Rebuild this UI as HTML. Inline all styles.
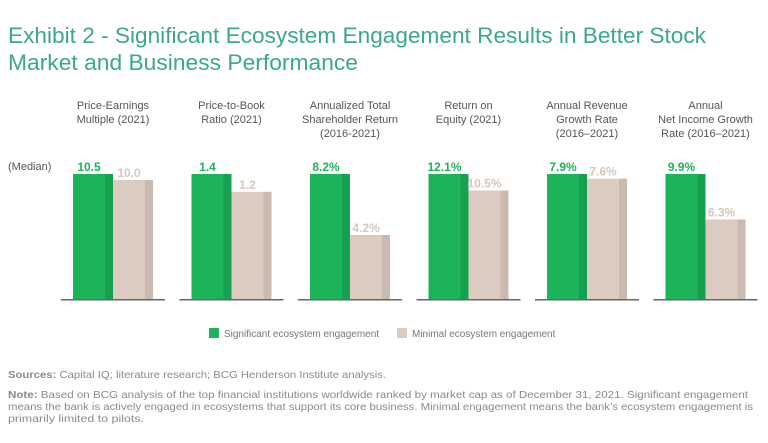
<!DOCTYPE html>
<html><head><meta charset="utf-8"><style>
html,body{margin:0;padding:0;background:#fff;}
svg{display:block;font-family:"Liberation Sans",sans-serif;}
</style></head><body>
<svg width="768" height="443" viewBox="0 0 768 443">
<text x="8" y="43" font-size="22" fill="#3aa88a" textLength="698" lengthAdjust="spacingAndGlyphs">Exhibit 2 - Significant Ecosystem Engagement Results in Better Stock</text>
<text x="8" y="70" font-size="22" fill="#3aa88a" textLength="350" lengthAdjust="spacingAndGlyphs">Market and Business Performance</text>
<text x="8" y="170" font-size="11" fill="#555">(Median)</text>
<g id="bars"></g>
<rect x="209" y="328" width="10" height="10" fill="#1db35a"/>
<text x="224" y="337" font-size="10" fill="#777">Significant ecosystem engagement</text>
<rect x="397" y="328" width="10" height="10" fill="#dccbc0"/>
<text x="412" y="337" font-size="10" fill="#777">Minimal ecosystem engagement</text>
<text x="8" y="378" font-size="10.5" fill="#8a8a8a" textLength="378" lengthAdjust="spacingAndGlyphs"><tspan font-weight="bold">Sources:</tspan> Capital IQ; literature research; BCG Henderson Institute analysis.</text>
<text x="8" y="398" font-size="10.5" fill="#8a8a8a" textLength="740" lengthAdjust="spacingAndGlyphs"><tspan font-weight="bold">Note:</tspan> Based on BCG analysis of the top financial institutions worldwide ranked by market cap as of December 31, 2021. Significant engagement</text>
<text x="8" y="410" font-size="10.5" fill="#8a8a8a" textLength="745" lengthAdjust="spacingAndGlyphs">means the bank is actively engaged in ecosystems that support its core business. Minimal engagement means the bank’s ecosystem engagement is</text>
<text x="8" y="422" font-size="10.5" fill="#8a8a8a" textLength="136" lengthAdjust="spacingAndGlyphs">primarily limited to pilots.</text>
</svg>
<script>
const categories = [
  ["Price-Earnings","Multiple (2021)"],
  ["Price-to-Book","Ratio (2021)"],
  ["Annualized Total","Shareholder Return","(2016-2021)"],
  ["Return on","Equity (2021)"],
  ["Annual Revenue","Growth Rate","(2016–2021)"],
  ["Annual","Net Income Growth","Rate (2016–2021)"]
];
const significant = [10.5, 1.4, 8.2, 12.1, 7.9, 9.9];
const minimal = [10.0, 1.2, 4.2, 10.5, 7.6, 6.3];
const sigLabels = ["10.5","1.4","8.2%","12.1%","7.9%","9.9%"];
const minLabels = ["10.0","1.2","4.2%","10.5%","7.6%","6.3%"];

const NS = "http://www.w3.org/2000/svg";
const g = document.getElementById("bars");
const baseY = 299, maxH = 125, barW = 40, step = 118.5, x0 = 73;
function px(i){ return x0 + i*step; }
function h(v, ref){ return v/ref*maxH; }
function mk(tag, attrs){ const e=document.createElementNS(NS,tag); for(const k in attrs) e.setAttribute(k,attrs[k]); g.appendChild(e); return e; }

categories.forEach((lines,i)=>{
  const x = px(i), cx = x + barW;
  lines.forEach((t,j)=>{
    const e = mk("text",{x:cx,y:109+j*14,"font-size":"11","fill":"#555","text-anchor":"middle"});
    e.textContent = t;
    
    
  });
  const ref = significant[i];
  const hs = h(significant[i], ref), hm = h(minimal[i], ref);
  const ax = mk("rect",{x:x-12,y:baseY,width:104,height:1.5,fill:"#666"});
  
  
  const b1 = mk("rect",{x:x,y:baseY-hs,width:barW,height:hs,fill:"#1db35a"});
  
  
  const s1 = mk("rect",{x:x+32,y:baseY-hs,width:8,height:hs,fill:"#17a04f"});
  
  
  const b2 = mk("rect",{x:x+barW,y:baseY-hm,width:barW,height:hm,fill:"#dccbc0"});
  
  
  const s2 = mk("rect",{x:x+barW+32,y:baseY-hm,width:8,height:hm,fill:"#cbbaaf"});
  
  
  const l1 = mk("text",{x:x+16,y:baseY-hs-3,"font-size":"12","font-weight":"bold","fill":"#1db35a","text-anchor":"middle"});
  l1.textContent = sigLabels[i];
  
  
  const l2 = mk("text",{x:x+barW+16,y:baseY-hm-3,"font-size":"12","font-weight":"bold","fill":"#d6c6bb","text-anchor":"middle"});
  l2.textContent = minLabels[i];
  
  
});
</script>
</body></html>
